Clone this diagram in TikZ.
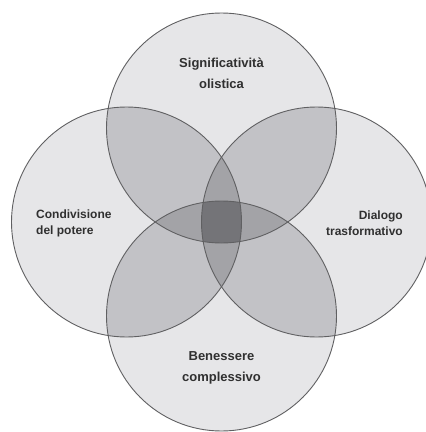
\documentclass[tikz,border=0pt]{standalone}
\usepackage{fontspec}
\setmainfont{Liberation Sans}
\definecolor{cone}{HTML}{E6E6E8}
\definecolor{ctwo}{HTML}{C2C2C6}
\definecolor{cthree}{HTML}{A3A3A7}
\definecolor{cfour}{HTML}{747478}
\definecolor{cline}{HTML}{606062}
\definecolor{ctext}{HTML}{303030}
\begin{document}
\begin{tikzpicture}[x=1pt,y=-1pt,
  big/.style={font=\fontsize{13}{21}\selectfont\bfseries, text=ctext, align=center, inner sep=0pt},
  side/.style={font=\fontsize{12}{16}\selectfont\bfseries, text=ctext, inner sep=0pt},
  ring/.style={draw=cline, line width=0.9pt}]
\def\R{115pt}
\useasboundingbox (0,0) rectangle (426,432);
\clip (0,0) rectangle (426,432);
\fill[white] (0,0) rectangle (426,432);
\coordinate (T) at (221.5,128);
\coordinate (B) at (221.5,316);
\coordinate (L) at (126.5,222);
\coordinate (Rt) at (316.5,222);
% single
\foreach \c in {T,B,L,Rt} \fill[cone] (\c) circle[radius=\R];
% pairs
\begin{scope}\clip (T) circle[radius=\R];
  \fill[ctwo] (L) circle[radius=\R]; \fill[ctwo] (Rt) circle[radius=\R]; \fill[ctwo] (B) circle[radius=\R];
\end{scope}
\begin{scope}\clip (L) circle[radius=\R];
  \fill[ctwo] (Rt) circle[radius=\R]; \fill[ctwo] (B) circle[radius=\R];
\end{scope}
\begin{scope}\clip (Rt) circle[radius=\R];
  \fill[ctwo] (B) circle[radius=\R];
\end{scope}
% triples
\begin{scope}\clip (T) circle[radius=\R]; \clip (L) circle[radius=\R];
  \fill[cthree] (Rt) circle[radius=\R]; \fill[cthree] (B) circle[radius=\R];
\end{scope}
\begin{scope}\clip (T) circle[radius=\R]; \clip (Rt) circle[radius=\R];
  \fill[cthree] (B) circle[radius=\R];
\end{scope}
\begin{scope}\clip (L) circle[radius=\R]; \clip (Rt) circle[radius=\R];
  \fill[cthree] (B) circle[radius=\R];
\end{scope}
% quadruple
\begin{scope}\clip (T) circle[radius=\R]; \clip (L) circle[radius=\R]; \clip (Rt) circle[radius=\R];
  \fill[cfour] (B) circle[radius=\R];
\end{scope}
% outlines
\foreach \c in {T,B,L,Rt} \draw[ring] (\c) circle[radius=\R];
% labels
\node[big] (sig) at (221.5,73) {Significatività\\olistica};
\node[big] (ben) at (221.5,368) {Benessere\\complessivo};
\node[side, align=left, anchor=west] (con) at (36,223) {Condivisione\\del potere};
\node[side, align=right, anchor=east] (dia) at (403,223) {Dialogo\\trasformativo};
\end{tikzpicture}
\end{document}
